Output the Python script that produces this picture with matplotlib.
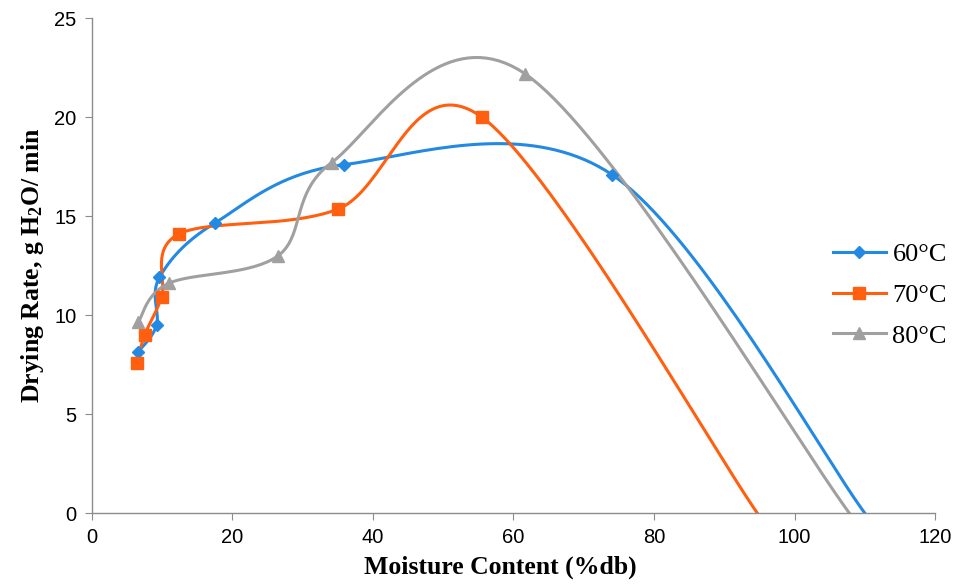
import numpy as np
import matplotlib
matplotlib.use("Agg")
import matplotlib.pyplot as plt
from matplotlib.lines import Line2D

# Data (moisture content %db, drying rate g H2O/min)
x60 = [6.6, 9.2, 9.6, 17.5, 35.9, 74.0, 110.0]
y60 = [8.15, 9.5, 11.9, 14.65, 17.6, 17.1, 0.0]

x70 = [6.4, 7.5, 9.9, 12.4, 35.0, 55.5, 94.7]
y70 = [7.58, 9.0, 10.9, 14.1, 15.35, 20.0, 0.0]

x80 = [6.6, 10.9, 26.5, 34.1, 61.6, 107.8]
y80 = [9.66, 11.6, 13.0, 17.7, 22.2, 0.0]

labels = ["60°C", "70°C", "80°C"]
colors = ["#2389E3", "#FF5F0F", "#A0A0A0"]
markers = ["D", "s", "^"]
msizes = [6, 8, 9]

xticks = [0, 20, 40, 60, 80, 100, 120]
yticks = [0, 5, 10, 15, 20, 25]

plt.rcParams["mathtext.fontset"] = "custom"
plt.rcParams["mathtext.rm"] = "Liberation Serif:bold"
plt.rcParams["mathtext.it"] = "Liberation Serif:bold"
plt.rcParams["mathtext.bf"] = "Liberation Serif:bold"

fig = plt.figure(figsize=(9.58, 5.85), dpi=100)
ax = fig.add_axes([0.096, 0.123, 0.88, 0.846])
ax.set_xlim(0, 120)
ax.set_ylim(0, 25)

# pixel scale so the smoothing behaves like Excel's (done in screen space)
sx = 0.88 * 958 / 120
sy = 0.846 * 585 / 25


def smooth(xs, ys, n=40):
    p = np.column_stack([np.array(xs) * sx, np.array(ys) * sy])
    p = np.vstack([p[0], p, p[-1]])
    out = []
    for i in range(1, len(p) - 2):
        p0, p1, p2, p3 = p[i - 1], p[i], p[i + 1], p[i + 2]
        c1 = p1 + (p2 - p0) / 6
        c2 = p2 - (p3 - p1) / 6
        t = np.linspace(0, 1, n)[:, None]
        seg = ((1 - t) ** 3) * p1 + 3 * ((1 - t) ** 2) * t * c1 + 3 * (1 - t) * t ** 2 * c2 + t ** 3 * p2
        out.append(seg)
    out = np.vstack(out)
    return out[:, 0] / sx, out[:, 1] / sy


series = [(x60, y60), (x70, y70), (x80, y80)]
handles = []
for (xs, ys), lab, c, m, ms in zip(series, labels, colors, markers, msizes):
    cx, cy = smooth(xs, ys)
    ax.plot(cx, cy, color=c, lw=2.2, zorder=2)
    ax.plot(xs[:-1], ys[:-1], ls="none", marker=m, ms=ms, color=c, zorder=3)
    handles.append(Line2D([], [], color=c, lw=2.2, marker=m, ms=ms))

for s in ["top", "right"]:
    ax.spines[s].set_visible(False)
for s in ["left", "bottom"]:
    ax.spines[s].set_color("#8c8c8c")
    ax.spines[s].set_linewidth(1.0)

ax.set_xticks(xticks)
ax.set_yticks(yticks)
ax.tick_params(direction="out", length=5, color="#8c8c8c", labelsize=14.5, pad=6)
for lbl in ax.get_xticklabels() + ax.get_yticklabels():
    lbl.set_family("Liberation Sans")

ax.set_xlabel("Moisture Content (%db)", family="Liberation Serif", fontweight="bold",
              fontsize=18.5, labelpad=6)
ax.xaxis.label.set_x(0.484)
ax.set_ylabel("Drying Rate, g H$_2$O/ min", family="Liberation Serif", fontweight="bold",
              fontsize=18.5, labelpad=6)

leg = ax.legend(handles, labels, loc="center left", bbox_to_anchor=(0.879, 0.44),
                frameon=False, handlelength=2.0, handletextpad=0.25, labelspacing=0.65,
                borderpad=0, borderaxespad=0,
                prop={"family": "Liberation Serif", "size": 19})

fig.savefig("out.png", dpi=100)
